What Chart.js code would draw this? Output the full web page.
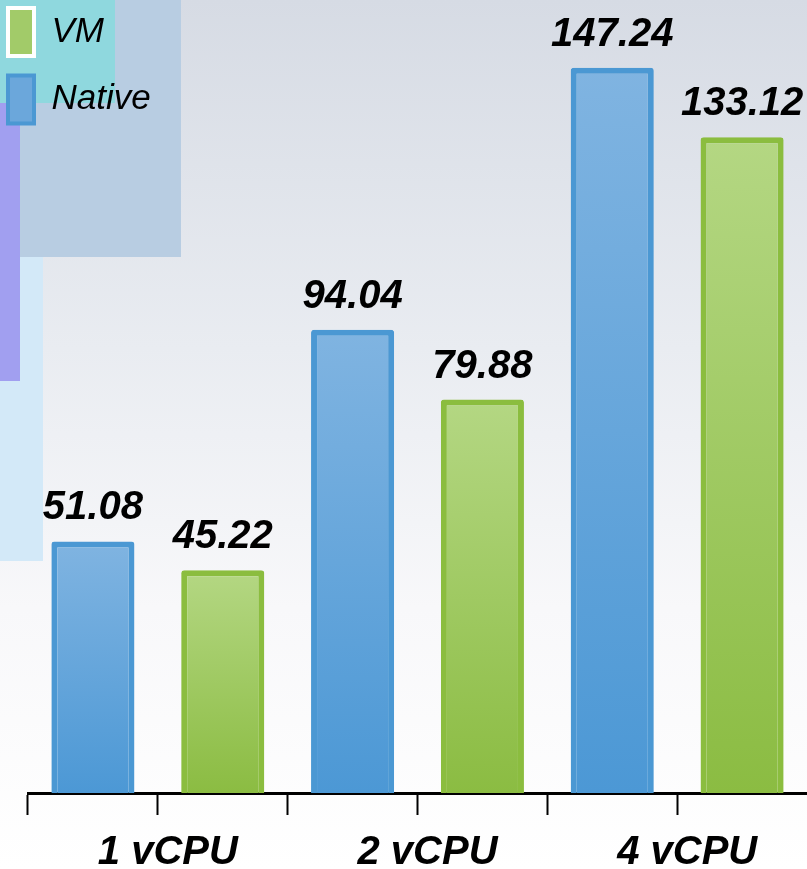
<!DOCTYPE html>
<html>
<head>
<meta charset="utf-8">
<title>vCPU bars</title>
<script src="https://cdn.jsdelivr.net/npm/chart.js@4.4.1/dist/chart.umd.min.js"></script>
<style>
  html, body { margin: 0; padding: 0; }
  body {
    width: 807px; height: 869px; overflow: hidden; position: relative;
    background: linear-gradient(to bottom, #d6dbe4 0%, #e9ecf1 40%, #f8f8fa 70%, #ffffff 100%);
  }
  .deco { position: absolute; }
  #wrap { position: absolute; left: 0; top: 0; width: 807px; height: 869px; }
</style>
</head>
<body>
<div class="deco" style="left:0;top:0;width:181px;height:257px;background:#b8cde2"></div>
<div class="deco" style="left:0;top:0;width:115px;height:103px;background:#8fd8de"></div>
<div class="deco" style="left:0;top:257px;width:43px;height:304px;background:#d3e9f8"></div>
<div class="deco" style="left:0;top:103px;width:20px;height:278px;background:#a19ff0"></div>
<div id="wrap"><canvas id="chart" width="807" height="869"></canvas></div>
<script>
  // values
  var categories = ['1 vCPU', '2 vCPU', '4 vCPU'];
  var nativeValues = [51.08, 94.04, 147.24];
  var vmValues = [45.22, 79.88, 133.12];
  var tickSlots = ['', '', '', '', '', ''];

  var fontFamily = '"Liberation Sans", Arial, sans-serif';

  // vertical gradient per bar, from its top down to zero
  function barFill(topColor, bottomColor) {
    return function (ctx) {
      var chart = ctx.chart;
      if (!chart.chartArea || ctx.type !== 'data') {
        return bottomColor;
      }
      var y = chart.scales.y;
      var g = chart.ctx.createLinearGradient(0, y.getPixelForValue(ctx.raw), 0, y.getPixelForValue(0));
      g.addColorStop(0, topColor);
      g.addColorStop(1, bottomColor);
      return g;
    };
  }

  var legendLook = [
    { fill: '#6ba7db', stroke: '#4b98d3' },
    { fill: '#a2cb69', stroke: '#ffffff' }
  ];

  var valueLabels = {
    id: 'valueLabels',
    afterDatasetsDraw: function (chart) {
      var ctx = chart.ctx;
      ctx.save();
      ctx.font = 'italic bold 40px ' + fontFamily;
      ctx.fillStyle = '#000';
      ctx.textAlign = 'center';
      ctx.textBaseline = 'alphabetic';
      chart.data.datasets.forEach(function (ds, i) {
        chart.getDatasetMeta(i).data.forEach(function (bar, j) {
          ctx.fillText(ds.data[j].toFixed(2), bar.x, bar.y - 22);
        });
      });
      ctx.restore();
    }
  };

  // the legend only reserves a narrow strip; let its text run over the plot
  var legendRoom = {
    id: 'legendRoom',
    afterLayout: function (chart) {
      if (chart.legend) {
        chart.legend.right = chart.legend.left + 200;
      }
    }
  };

  var chart = new Chart(document.getElementById('chart'), {
    type: 'bar',
    data: {
      labels: categories,
      datasets: [
        {
          label: 'Native',
          data: nativeValues,
          backgroundColor: barFill('#80b4e1', '#4c98d5'),
          borderColor: '#4b98d3',
          borderWidth: 6,
          borderRadius: 3,
          barPercentage: 0.64,
          categoryPercentage: 1
        },
        {
          label: 'VM',
          data: vmValues,
          backgroundColor: barFill('#b4d783', '#8bbc42'),
          borderColor: '#8bbd3f',
          borderWidth: 6,
          borderRadius: 3,
          barPercentage: 0.64,
          categoryPercentage: 1
        }
      ]
    },
    options: {
      responsive: false,
      animation: false,
      devicePixelRatio: 1,
      layout: { padding: 0 },
      plugins: {
        tooltip: { enabled: false },
        legend: {
          position: 'left',
          align: 'start',
          reverse: true,
          maxWidth: 28,
          labels: {
            boxWidth: 26,
            boxHeight: 48,
            padding: 8,
            color: '#000',
            font: { family: fontFamily, size: 35, style: 'italic', lineHeight: 1.7 },
            generateLabels: function (chart) {
              var items = Chart.defaults.plugins.legend.labels.generateLabels(chart);
              items.forEach(function (item) {
                var look = legendLook[item.datasetIndex];
                item.fillStyle = look.fill;
                item.strokeStyle = look.stroke;
                item.lineWidth = 4;
                item.text = [item.text];
              });
              return items;
            }
          }
        }
      },
      scales: {
        y: {
          display: false,
          min: 0,
          max: 161
        },
        x: {
          weight: 1,
          grid: { display: false, drawTicks: false },
          border: { display: false },
          ticks: {
            color: '#000',
            font: { family: fontFamily, size: 40, weight: 'bold', style: 'italic' },
            padding: 14,
            labelOffset: 10,
            maxRotation: 0,
            autoSkip: false
          },
          afterFit: function (scale) { scale.height = 54; }
        },
        x2: {
          type: 'category',
          labels: tickSlots,
          position: 'bottom',
          weight: 0,
          offset: true,
          grid: {
            offset: true,
            drawOnChartArea: false,
            drawTicks: true,
            tickLength: 22,
            tickWidth: 2,
            tickColor: function (ctx) {
              return ctx.type === 'tick' ? '#000' : 'rgba(0,0,0,0)';
            }
          },
          border: { display: true, color: '#000', width: 3 },
          ticks: { display: false, autoSkip: false },
          afterFit: function (scale) { scale.height = 22; }
        }
      }
    },
    plugins: [valueLabels, legendRoom]
  });
</script>
</body>
</html>
